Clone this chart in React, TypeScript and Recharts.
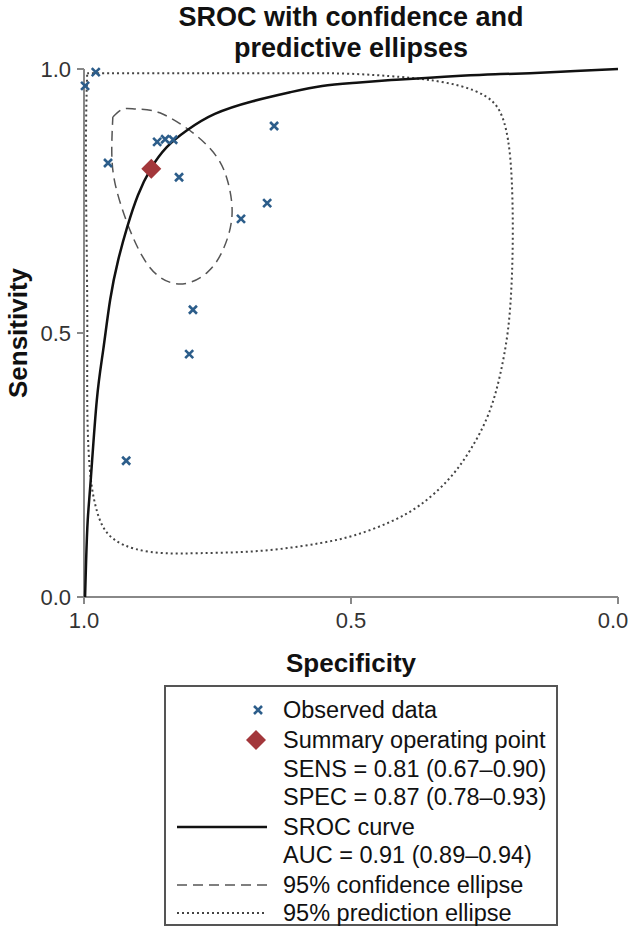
import { ScatterChart, Scatter, XAxis, YAxis } from 'recharts'

// observed study points (specificity, sensitivity)
const observedSpec = [0.998, 0.978, 0.955, 0.863, 0.848, 0.833, 0.822, 0.644, 0.657, 0.706, 0.796, 0.803, 0.921]
const observedSens = [0.968, 0.994, 0.822, 0.862, 0.867, 0.866, 0.795, 0.892, 0.746, 0.716, 0.544, 0.46, 0.258]

const summarySpec = [0.874]
const summarySens = [0.811]

const srocSpec = [0.998, 0.996, 0.993, 0.987, 0.976, 0.964, 0.951, 0.936, 0.919, 0.899, 0.875, 0.845, 0.807, 0.755, 0.684, 0.614, 0.554, 0.49, 0.425, 0.36, 0.294, 0.23, 0.165, 0.08, 0.0]
const srocSens = [0.0, 0.07, 0.146, 0.227, 0.373, 0.468, 0.563, 0.638, 0.701, 0.761, 0.811, 0.852, 0.884, 0.915, 0.939, 0.956, 0.968, 0.974, 0.979, 0.983, 0.987, 0.99, 0.992, 0.996, 1.0]

const confSpec = [0.946, 0.927, 0.901, 0.858, 0.796, 0.751, 0.73, 0.723, 0.74, 0.77, 0.815, 0.858, 0.89, 0.919, 0.942, 0.948, 0.946]
const confSens = [0.909, 0.924, 0.924, 0.917, 0.879, 0.833, 0.784, 0.72, 0.657, 0.614, 0.593, 0.606, 0.644, 0.708, 0.784, 0.847, 0.909]

const predSpec = [0.994, 0.97, 0.876, 0.783, 0.689, 0.596, 0.502, 0.408, 0.352, 0.296, 0.249, 0.221, 0.206, 0.199, 0.197, 0.199, 0.206, 0.221, 0.243, 0.277, 0.318, 0.371, 0.427, 0.493, 0.558, 0.633, 0.708, 0.783, 0.848, 0.904, 0.942, 0.966, 0.981, 0.989, 0.993, 0.994, 0.994, 0.996, 0.996, 0.994]
const predSens = [0.992, 0.992, 0.992, 0.992, 0.992, 0.992, 0.991, 0.985, 0.979, 0.968, 0.949, 0.919, 0.866, 0.79, 0.695, 0.6, 0.506, 0.42, 0.345, 0.278, 0.222, 0.174, 0.142, 0.117, 0.102, 0.091, 0.085, 0.083, 0.083, 0.091, 0.108, 0.136, 0.184, 0.241, 0.316, 0.411, 0.563, 0.752, 0.903, 0.992]

const axisTicks = [0, 0.5, 1]

const legendLines = [
  'Observed data',
  'Summary operating point',
  'SENS = 0.81 (0.67–0.90)',
  'SPEC = 0.87 (0.78–0.93)',
  'SROC curve',
  'AUC = 0.91 (0.89–0.94)',
  '95% confidence ellipse',
  '95% prediction ellipse',
]

const FONT = "'Liberation Sans', Arial, sans-serif"
const BLUE = '#2c5d8a'
const RED = '#a3373b'

const pairs = (xs: number[], ys: number[]) => xs.map((x, i) => ({ spec: x, sens: ys[i] }))

const Cross = ({ cx, cy }: any) => (
  <path d={`M${cx - 4},${cy - 4}L${cx + 4},${cy + 4}M${cx + 4},${cy - 4}L${cx - 4},${cy + 4}`} stroke={BLUE} strokeWidth={2.6} />
)

const Diamond = ({ cx, cy }: any) => (
  <polygon points={`${cx},${cy - 10} ${cx + 10},${cy} ${cx},${cy + 10} ${cx - 10},${cy}`} fill={RED} />
)

const NoDot = () => <g />

// keeps the last label inside the page
const XTick = ({ x, y, payload }: any) => (
  <text x={Math.min(x, 613)} y={y} dy="0.71em" textAnchor="middle" fill="#333" fontSize={22} fontFamily={FONT}>
    {Number(payload.value).toFixed(1)}
  </text>
)

export default function App() {
  const tickStyle = { fill: '#333', fontSize: 22, fontFamily: FONT }
  const rowY = [710, 740, 769, 797, 827, 855, 885, 913]

  return (
    <div style={{ position: 'absolute', left: 0, top: 0, width: 630, height: 935, background: '#fff', fontFamily: FONT }}>
      <div style={{ position: 'absolute', left: 84, width: 534, top: 2, textAlign: 'center', fontWeight: 'bold', fontSize: 27, lineHeight: '31px', color: '#111' }}>
        SROC with confidence and<br />predictive ellipses
      </div>

      <ScatterChart width={630} height={640} margin={{ top: 69, right: 12, bottom: 3, left: 24 }}>
        <XAxis
          type="number" dataKey="spec" domain={[0, 1]} reversed ticks={axisTicks} interval={0}
          height={40} tick={<XTick />} tickSize={7} tickMargin={8}
          axisLine={{ stroke: '#888', strokeWidth: 2 }} tickLine={{ stroke: '#888', strokeWidth: 2 }}
        />
        <YAxis
          type="number" dataKey="sens" domain={[0, 1]} ticks={axisTicks} interval={0}
          tickFormatter={(v) => Number(v).toFixed(1)} width={60}
          tick={tickStyle} tickSize={7} tickMargin={6}
          axisLine={{ stroke: '#888', strokeWidth: 2 }} tickLine={{ stroke: '#888', strokeWidth: 2 }}
        />
        <Scatter data={pairs(predSpec, predSens)} line={{ stroke: '#444', strokeWidth: 2, strokeDasharray: '2 3' }} lineType="joint" lineJointType="natural" shape={NoDot} isAnimationActive={false} />
        <Scatter data={pairs(confSpec, confSens)} line={{ stroke: '#555', strokeWidth: 1.5, strokeDasharray: '10 6' }} lineType="joint" lineJointType="natural" shape={NoDot} isAnimationActive={false} />
        <Scatter data={pairs(srocSpec, srocSens)} line={{ stroke: '#111', strokeWidth: 2.5 }} lineType="joint" lineJointType="natural" shape={NoDot} isAnimationActive={false} />
        <Scatter data={pairs(observedSpec, observedSens)} shape={Cross} isAnimationActive={false} />
        <Scatter data={pairs(summarySpec, summarySens)} shape={Diamond} isAnimationActive={false} />
      </ScatterChart>

      <div style={{ position: 'absolute', left: 0, top: 318, width: 36, height: 30 }}>
        <div style={{ position: 'absolute', left: 18, top: 15, transform: 'translate(-50%, -50%) rotate(-90deg)', fontWeight: 'bold', fontSize: 26, color: '#111', whiteSpace: 'nowrap' }}>
          Sensitivity
        </div>
      </div>
      <div style={{ position: 'absolute', left: 84, width: 534, top: 647, textAlign: 'center', fontWeight: 'bold', fontSize: 26, lineHeight: '32px', color: '#111' }}>
        Specificity
      </div>

      <svg style={{ position: 'absolute', left: 0, top: 0 }} width={630} height={935}>
        <rect x={165} y={686} width={392} height={239} fill="none" stroke="#555" strokeWidth={2} />
        <Cross cx={258} cy={710} />
        <Diamond cx={256} cy={740} />
        <line x1={177} x2={267} y1={827} y2={827} stroke="#111" strokeWidth={2.5} />
        <line x1={177} x2={267} y1={885} y2={885} stroke="#555" strokeWidth={1.5} strokeDasharray="10 6" />
        <line x1={177} x2={267} y1={913} y2={913} stroke="#444" strokeWidth={2} strokeDasharray="2 3" />
        {legendLines.map((t, i) => (
          <text key={i} x={283} y={rowY[i] + 8} fontSize={23.5} fontFamily={FONT} fill="#111">{t}</text>
        ))}
      </svg>
    </div>
  )
}
